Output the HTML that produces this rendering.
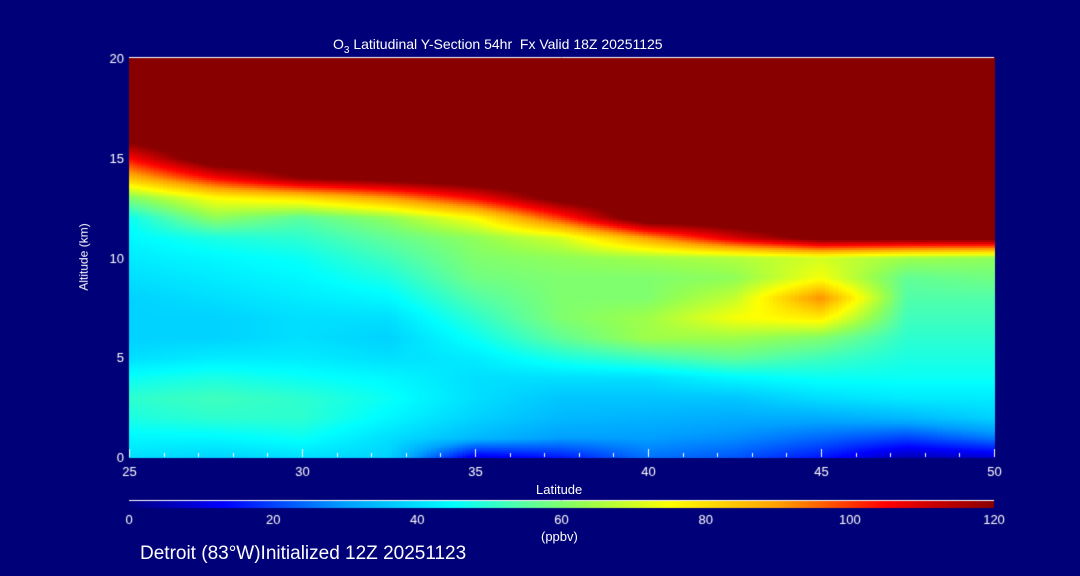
<!DOCTYPE html>
<html><head><meta charset="utf-8"><style>
body{margin:0;width:1080px;height:576px;background:#000078;overflow:hidden;font-family:"Liberation Sans",sans-serif;color:#fff}
.t{position:absolute;white-space:nowrap;font-size:13px}
</style></head><body>
<div class="t" style="left:333px;top:36px;font-size:14px">O<sub style="font-size:10px">3</sub> Latitudinal Y-Section 54hr&nbsp; Fx Valid 18Z 20251125</div>
<canvas id="c" width="1080" height="576" style="position:absolute;left:0;top:0"></canvas>
<div class="t" style="left:50px;top:250px;transform:rotate(-90deg);font-size:12px">Altitude (km)</div>
<div class="t" style="left:536px;top:482px">Latitude</div>
<div class="t" style="left:541px;top:529px">(ppbv)</div>
<div class="t" style="left:140px;top:543px;font-size:19px">Detroit (83°W)Initialized 12Z 20251123</div>
<script>
const lats=[25,27.5,30,32.5,35,37.5,40,42.5,45,47.5,50];
const alts=[0,1,2,3,4,5,6,7,8,9,10,11,12,13,14,15,16,17,18,19,20];
const col25=[40,44,48,50,46,40,38,38,38,40,42,44,46,60,85,105,125,130,130,130,130];
const col275=[38,44,50,52,48,42,38,38,40,42,44,48,62,75,105,130,130,130,130,130,130];
const col30=[40,46,50,50,46,42,40,40,42,44,46,50,55,80,120,130,130,130,130,130,130];
const col325=[38,40,44,46,44,40,38,40,44,48,52,56,62,90,125,130,130,130,130,130,130];
const col35=[10,34,38,40,40,42,46,50,54,58,60,62,75,105,130,130,130,130,130,130,130];
const col375=[15,30,34,36,40,48,56,60,60,60,62,70,100,125,130,130,130,130,130,130,130];
const col40=[25,30,33,36,40,52,64,64,60,60,64,90,130,130,130,130,130,130,130,130,130];
const col425=[22,28,32,36,44,56,64,74,68,62,66,110,130,130,130,130,130,130,130,130,130];
const col45=[15,24,32,40,46,52,60,78,92,74,70,125,130,130,130,130,130,130,130,130,130];
const col475=[5,20,34,42,46,48,50,52,54,56,64,125,130,130,130,130,130,130,130,130,130];
const col50=[8,26,38,42,46,48,50,52,54,58,62,125,130,130,130,130,130,130,130,130,130];
const cols=[col25,col275,col30,col325,col35,col375,col40,col425,col45,col475,col50];
const xTicks=[25,30,35,40,45,50];
const yTicks=[0,5,10,15,20];
const cbTicks=[0,20,40,60,80,100,120];

const X0=129,X1=994,Y0=457,Y1=58;
const xs=v=>X0+(v-25)/25*(X1-X0);
const ys=v=>Y0-(v/20)*(Y0-Y1);
const stops=[[0,[0,0,128]],[13,[0,0,255]],[30,[0,160,255]],[45,[0,255,255]],[55,[90,255,160]],[63,[150,255,80]],[75,[255,255,0]],[90,[255,160,0]],[105,[255,0,0]],[120,[136,0,0]]];
function cmap(v){v=Math.max(0,Math.min(120,v));for(let i=1;i<stops.length;i++){if(v<=stops[i][0]){const a=stops[i-1],b=stops[i],t=(v-a[0])/(b[0]-a[0]);return 'rgb('+a[1].map((c,k)=>Math.round(c+(b[1][k]-c)*t)).join(',')+')';}}return 'rgb(136,0,0)';}
function val(lat,alt){
  let fi=(lat-25)/2.5,i=Math.min(Math.floor(fi),lats.length-2),tx=fi-i;
  let j=Math.min(Math.floor(alt),alts.length-2),ty=alt-j;
  const a=cols[i][j],b=cols[i+1][j],c=cols[i][j+1],d=cols[i+1][j+1];
  return (a*(1-tx)+b*tx)*(1-ty)+(c*(1-tx)+d*tx)*ty;
}
const ctx=document.getElementById('c').getContext('2d');
const dl=0.125,da=0.1;
for(let lat=25;lat<50;lat+=dl){for(let al=0;al<20;al+=da){
  ctx.fillStyle=cmap(val(lat+dl/2,al+da/2));
  const x=xs(lat),y=ys(al+da);
  ctx.fillRect(Math.floor(x),Math.floor(y),Math.ceil(xs(lat+dl)-x)+1,Math.ceil(ys(al)-y)+1);
}}
ctx.strokeStyle='#fff';ctx.fillStyle='#fff';ctx.lineWidth=1;
ctx.beginPath();ctx.moveTo(X0,Y1-0.5);ctx.lineTo(X1,Y1-0.5);ctx.stroke();
ctx.font='13px "Liberation Sans", sans-serif';
ctx.textAlign='center';
xTicks.forEach(t=>{const x=Math.round(xs(t))+0.5;ctx.beginPath();ctx.moveTo(x,Y0);ctx.lineTo(x,Y0-8);ctx.stroke();ctx.fillText(t,x,476);});
for(let t=25;t<=50;t++){const x=Math.round(xs(t))+0.5;ctx.beginPath();ctx.moveTo(x,Y0);ctx.lineTo(x,Y0-4);ctx.stroke();}
ctx.textAlign='right';
yTicks.forEach(t=>{ctx.fillText(t,124,ys(t)+5);});
ctx.beginPath();ctx.moveTo(X0,500.5);ctx.lineTo(X1,500.5);ctx.stroke();
for(let x=X0;x<X1;x++){ctx.fillStyle=cmap((x-X0)/(X1-X0)*120);ctx.fillRect(x,501,1,7);}
ctx.fillStyle='#fff';ctx.textAlign='center';
cbTicks.forEach(t=>ctx.fillText(t,X0+t/120*(X1-X0),524));
</script>
</body></html>
